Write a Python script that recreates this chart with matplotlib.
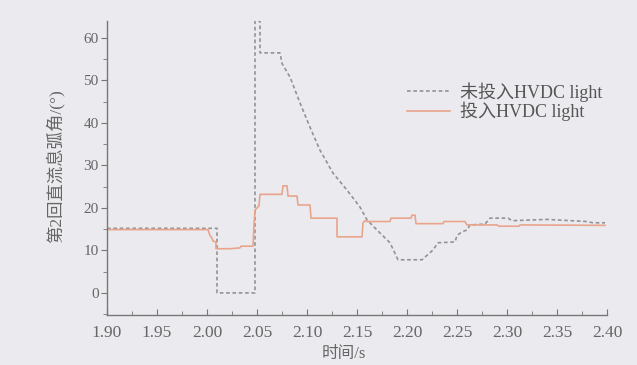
import matplotlib
matplotlib.use("Agg")
import matplotlib.pyplot as plt
from matplotlib.ticker import MultipleLocator

plt.rcParams['font.family'] = ['Liberation Serif', 'Noto Sans CJK SC', 'DejaVu Sans']

# without HVDC light (dashed)
t_off = [1.900, 2.010, 2.010, 2.048, 2.048, 2.053, 2.053, 2.073, 2.075, 2.083,
         2.086, 2.093, 2.103, 2.105, 2.113, 2.126, 2.140, 2.153, 2.160, 2.170,
         2.183, 2.191, 2.215, 2.226, 2.231, 2.248, 2.250, 2.255, 2.260, 2.263,
         2.278, 2.283, 2.301, 2.305, 2.340, 2.380, 2.386, 2.398]
v_off = [15.2, 15.2, 0.0, 0.0, 64.0, 64.0, 56.5, 56.5, 54.0, 50.8,
         49.0, 44.7, 39.0, 37.9, 33.6, 28.2, 24.2, 20.2, 17.2, 14.8,
         11.8, 7.8, 7.8, 10.1, 11.8, 12.0, 13.5, 14.4, 14.8, 16.0,
         16.2, 17.6, 17.6, 17.0, 17.3, 16.8, 16.5, 16.5]

# with HVDC light (solid)
t_on = [1.900, 2.001, 2.003, 2.005, 2.006, 2.009, 2.009, 2.023, 2.033, 2.034,
        2.046, 2.047, 2.048, 2.050, 2.052, 2.053, 2.075, 2.076, 2.080, 2.081,
        2.090, 2.091, 2.103, 2.104, 2.130, 2.130, 2.155, 2.156, 2.158, 2.160,
        2.183, 2.184, 2.204, 2.205, 2.208, 2.209, 2.236, 2.237, 2.258, 2.260,
        2.290, 2.292, 2.312, 2.313, 2.398]
v_on = [14.9, 14.9, 13.5, 12.9, 12.2, 12.0, 10.4, 10.4, 10.6, 11.0,
        11.0, 16.0, 19.5, 20.0, 20.5, 23.2, 23.2, 25.2, 25.2, 22.8,
        22.8, 20.7, 20.7, 17.6, 17.6, 13.2, 13.2, 16.5, 17.0, 16.8,
        16.8, 17.6, 17.6, 18.3, 18.3, 16.3, 16.3, 16.8, 16.8, 16.0,
        16.0, 15.7, 15.7, 16.0, 15.9]

labels = ['未投入HVDC light', '投入HVDC light']
x_ticks = [1.90, 1.95, 2.00, 2.05, 2.10, 2.15, 2.20, 2.25, 2.30, 2.35, 2.40]
y_ticks = [0, 10, 20, 30, 40, 50, 60]

bg = '#ebebef'
axis_col = '#777777'
text_col = '#666666'

fig = plt.figure(figsize=(6.37, 3.65), dpi=100, facecolor=bg)
ax = fig.add_axes([107 / 637, 50 / 365, 500 / 637, 294 / 365])
ax.set_facecolor(bg)

ax.plot(t_off, v_off, color='#939393', lw=1.2, ls=(0, (2.2, 1.6)), label=labels[0])
ax.plot(t_on, v_on, color='#e9a48c', lw=1.2, label=labels[1])

ax.set_xlim(1.90, 2.40)
ax.set_ylim(-5.2, 64)
ax.set_xticks(x_ticks)
ax.set_xticklabels([f"{v:.2f}" for v in x_ticks])
ax.set_yticks(y_ticks)
ax.xaxis.set_minor_locator(MultipleLocator(0.025))
ax.yaxis.set_minor_locator(MultipleLocator(5))

for s in ('top', 'right'):
    ax.spines[s].set_visible(False)
for s in ('left', 'bottom'):
    ax.spines[s].set_color(axis_col)
    ax.spines[s].set_linewidth(1.0)

ax.tick_params(axis='x', which='major', direction='in', length=4, color=axis_col,
               labelsize=12.5, labelcolor=text_col, pad=7)
ax.tick_params(axis='x', which='minor', direction='in', length=3, color=axis_col)
ax.tick_params(axis='y', which='major', direction='out', length=4, color=axis_col,
               labelsize=11, labelcolor=text_col, pad=2)
ax.tick_params(axis='y', which='minor', direction='out', length=3, color=axis_col)

fig.text(55 / 637, 1 - 166 / 365, '第2回直流息弧角/(°)', rotation=90,
         ha='center', va='center', fontsize=12.5, color=text_col)
fig.text(344 / 637, 1 - 354 / 365, '时间/s', ha='center', va='center',
         fontsize=12, color=text_col)

leg = ax.legend(loc='upper left', bbox_to_anchor=(398 / 637, 1 - 73 / 365),
                bbox_transform=fig.transFigure, frameon=False, fontsize=13,
                handlelength=2.4, handletextpad=0.55, labelspacing=0.0,
                borderpad=0)
for t in leg.get_texts():
    t.set_color('#555555')

fig.savefig('out.png', dpi=100, facecolor=bg)
